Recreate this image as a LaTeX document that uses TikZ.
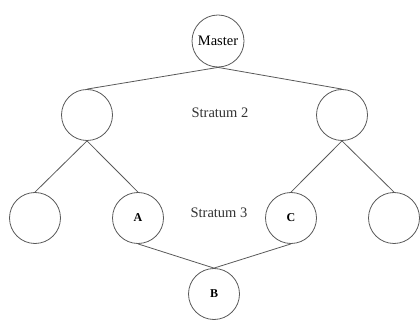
\documentclass[tikz,border=0pt]{standalone}
\usepackage{fontspec}
\setmainfont{Liberation Serif}
\begin{document}
\begin{tikzpicture}[x=1pt,y=-1pt,line width=0.8pt,
	srv/.style={draw=black!65,circle,minimum size=51pt,inner sep=0pt,font=\fontsize{14.5}{16}\selectfont},
	key/.style={srv,font=\fontsize{12}{14}\selectfont\bfseries},
	lbl/.style={font=\fontsize{14.5}{16}\selectfont,text=black!80}]
			\useasboundingbox (0,0) rectangle (420,320);
			\node[srv,minimum size=52pt] (master) at (218,41) {Master};
			\node[srv] (s2l) at (87,115) {};
			\node[srv] (s2r) at (342,115) {};
			\node[srv] (s3a) at (35,218) {};
			\node[key] (A) at (138,218) {A};
			\node[key] (C) at (291,218) {C};
			\node[srv] (s3d) at (394,218) {};
			\node[key] (B) at (214,294) {B};
			\node[lbl] (str2) at (220,113) {Stratum 2};
			\node[lbl] (str3) at (219,213) {Stratum 3};
			\draw[black!65] (master.south) -- (s2l.north);
			\draw[black!65] (master.south) -- (s2r.north);
			\draw[black!65] (s2l.south) -- (s3a.north);
			\draw[black!65] (s2l.south) -- (A.north);
			\draw[black!65] (s2r.south) -- (C.north);
			\draw[black!65] (s2r.south) -- (s3d.north);
			\draw[black!65] (A.south) -- (B.north);
			\draw[black!65] (C.south) -- (B.north);
		\end{tikzpicture}
\end{document}
